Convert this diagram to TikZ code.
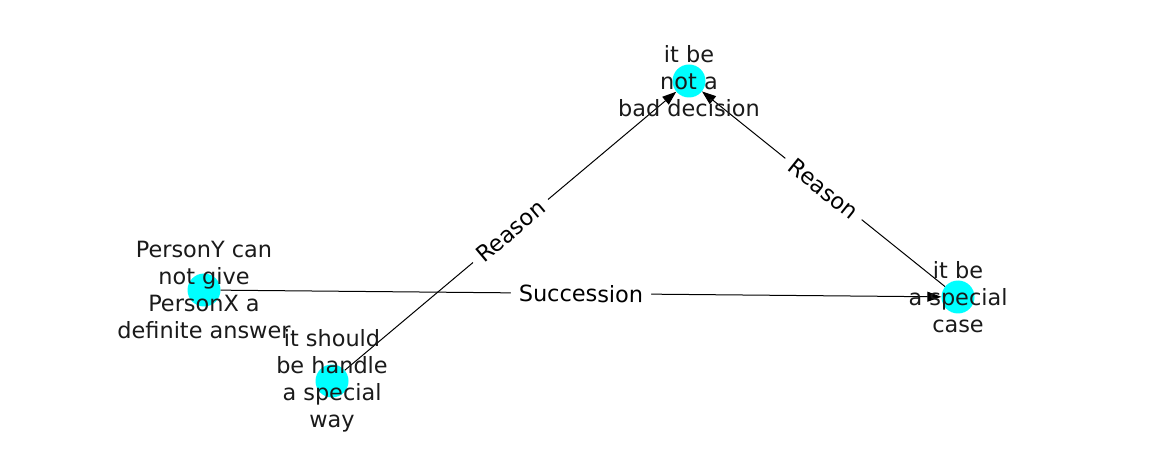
\documentclass[tikz,border=0pt]{standalone}
\usepackage{fontspec}
\setmainfont{DejaVu Sans}
\usetikzlibrary{arrows.meta}
\definecolor{nodecyan}{RGB}{0,255,255}
\definecolor{txt}{RGB}{26,26,26}
\tikzset{
  dot/.style={circle,fill=nodecyan,draw=none,minimum size=33pt,inner sep=0pt},
  lbl/.style={align=center,font=\fontsize{22.4}{27}\selectfont,text=txt,inner sep=0pt},
  edge/.style={draw=black,line width=1pt,-{Triangle[length=14pt,width=10pt]}},
  elbl/.style={fill=white,inner xsep=8pt,inner ysep=3pt,font=\fontsize{22.4}{27}\selectfont,text=black,sloped,midway}
}
\begin{document}
\begin{tikzpicture}[x=1pt,y=-1pt]
\useasboundingbox (0,0) rectangle (1162,462);
\node[dot] (top) at (689,81) {};
\node[dot] (left) at (204,290) {};
\node[dot] (bot) at (332,381) {};
\node[dot] (right) at (958,297) {};
\path[edge] (bot) -- (top) node[elbl] (e1) {Reason};
\path[edge] (right) -- (top) node[elbl] (e2) {Reason};
\path[edge] (left) -- (right) node[elbl] (e3) {Succession};
\node[lbl] (ttop) at (689,81) {it be\\not a\\bad decision};
\node[lbl] (tleft) at (204,290) {PersonY can\\not give\\PersonX a\\definite answer};
\node[lbl] (tbot) at (332,381) {it should\\be handle\\a special\\way};
\node[lbl] (tright) at (958,297) {it be\\a special\\case};
\end{tikzpicture}
\end{document}
